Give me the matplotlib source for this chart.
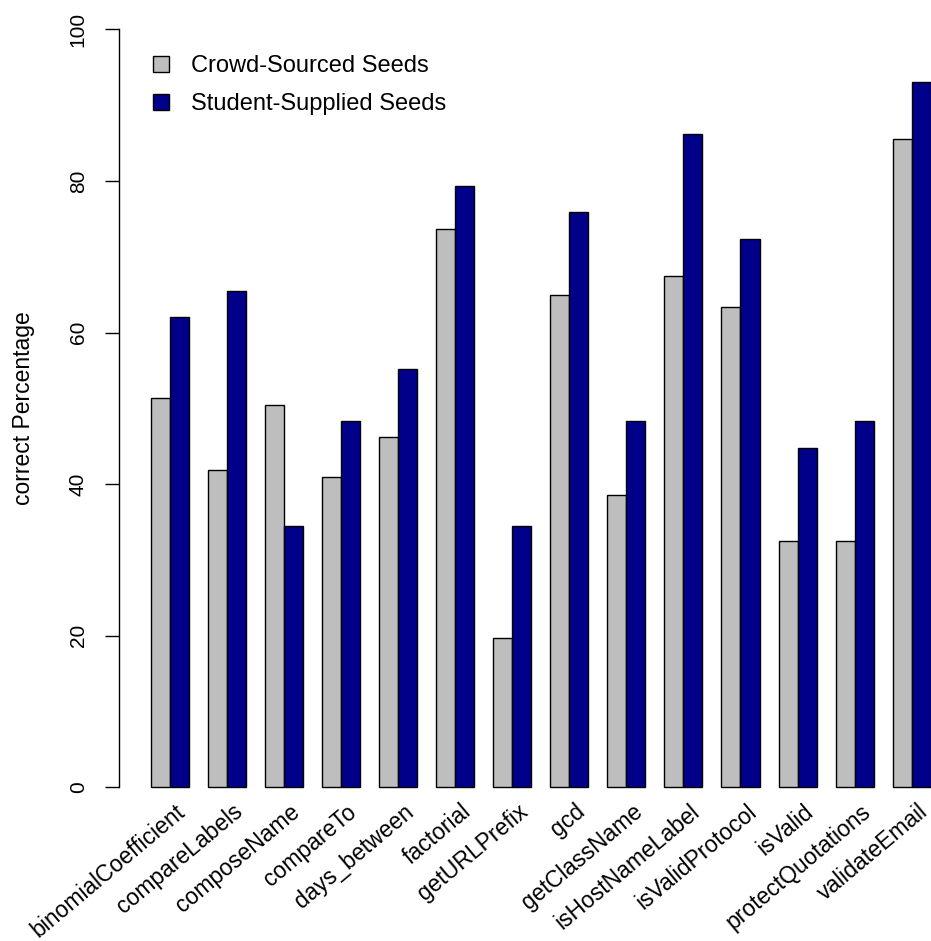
import matplotlib
matplotlib.use("Agg")
import matplotlib.pyplot as plt
from matplotlib.patches import Patch

plt.rcParams['font.family'] = ['Liberation Sans', 'DejaVu Sans']

methods = ["binomialCoefficient", "compareLabels", "composeName", "compareTo",
           "days_between", "factorial", "getURLPrefix", "gcd", "getClassName",
           "isHostNameLabel", "isValidProtocol", "isValid", "protectQuotations",
           "validateEmail"]
crowd_sourced = [51.3, 41.9, 50.5, 41.0, 46.2, 73.6, 19.7, 65.0, 38.5, 67.5,
                 63.3, 32.5, 32.5, 85.5]
student_supplied = [62.1, 65.5, 34.5, 48.3, 55.2, 79.3, 34.5, 75.9, 48.3, 86.2,
                    72.4, 44.8, 48.3, 93.1]
series_names = ["Crowd-Sourced Seeds", "Student-Supplied Seeds"]
series_colors = ["#BEBEBE", "#00008B"]
y_ticks = [0, 20, 40, 60, 80, 100]

W, H = 931, 941
fig = plt.figure(figsize=(W / 100, H / 100), dpi=100)
# plot region extends a little past the right edge of the canvas
ax = fig.add_axes([119.3 / W, (H - 817.6) / H, (962 - 119.3) / W, (817.6 + 1.0) / H])
ax.set_xlim(-0.64, 43.64)
ax.set_ylim(-4, 104)

n = len(methods)
left_gray = [1 + 3 * i for i in range(n)]
left_blue = [2 + 3 * i for i in range(n)]
ax.bar(left_gray, crowd_sourced, width=1, align='edge', color=series_colors[0],
       edgecolor='black', linewidth=1.0)
ax.bar(left_blue, student_supplied, width=1, align='edge', color=series_colors[1],
       edgecolor='black', linewidth=1.0)

for s in ['top', 'right', 'bottom']:
    ax.spines[s].set_visible(False)
ax.spines['left'].set_bounds(0, 100)
ax.spines['left'].set_linewidth(1.0)
ax.set_yticks(y_ticks)
ax.set_yticklabels([str(v) for v in y_ticks], rotation=90, va='center', fontsize=15)
ax.tick_params(axis='y', length=10.2, width=1.0, pad=12.5)
ax.set_xticks([])

ax.set_ylabel("correct Percentage", fontsize=16.5)
ax.yaxis.set_label_coords(-0.1005, 0.5)

for i, name in enumerate(methods):
    ax.text(2 + 3 * i + 0.3, -1.68, name, rotation=40, ha='right', va='top',
            rotation_mode='anchor', fontsize=16.5, clip_on=False)

handles = [Patch(facecolor=c, edgecolor='black', linewidth=1.0) for c in series_colors]
fig.legend(handles, series_names, loc='upper left', bbox_to_anchor=(153 / W, 1 - 55 / H),
           frameon=False, fontsize=17, handlelength=0.68, handleheight=0.68,
           handletextpad=0.92, labelspacing=0.68, borderaxespad=0, borderpad=0)

fig.savefig("out.png", dpi=100)
